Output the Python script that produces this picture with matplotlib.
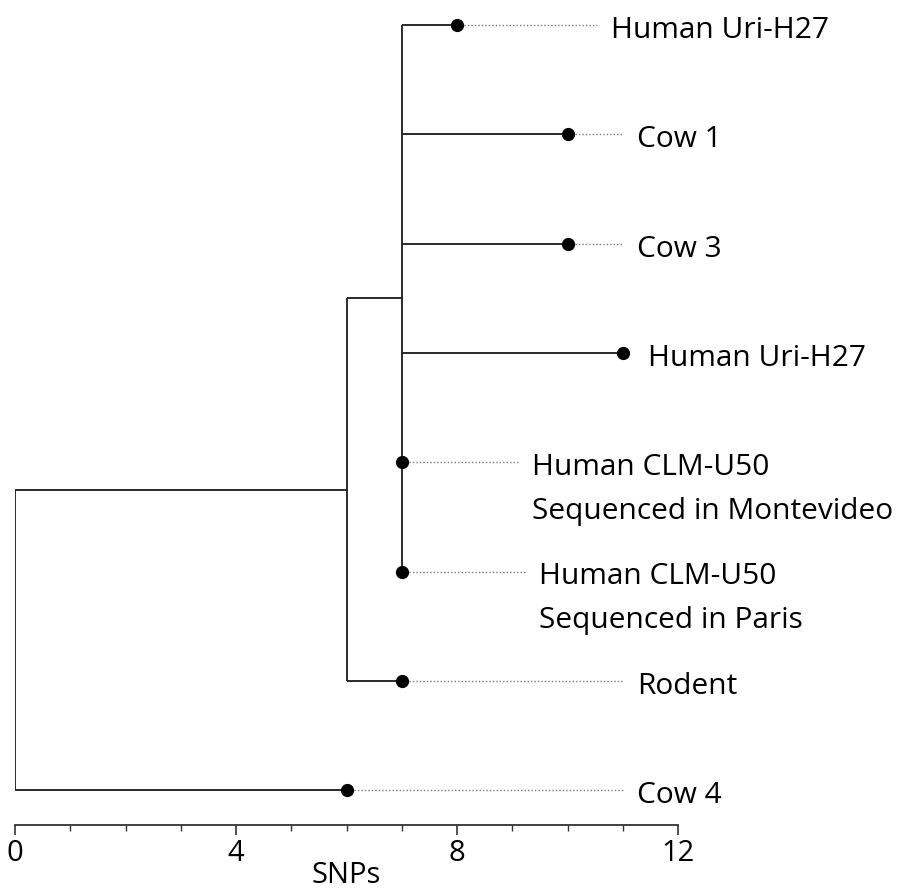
import matplotlib
matplotlib.use("Agg")
import matplotlib.pyplot as plt

plt.rcParams["font.family"] = ["Open Sans", "DejaVu Sans"]

# leaves, top to bottom
leaf_names = ["Human Uri-H27", "Cow 1", "Cow 3", "Human Uri-H27",
              "Human CLM-U50\nSequenced in Montevideo",
              "Human CLM-U50\nSequenced in Paris",
              "Rodent", "Cow 4"]
leaf_snps = [8, 10, 10, 11, 7, 7, 7, 6]
# where the dotted guide line to the label stops
guide_end = [10.53, 11.0, 11.0, 11.0, 9.1, 9.23, 11.0, 11.0]

# internal nodes: name, SNP position, children (leaf index or node name)
node_names = ["A", "B", "root"]
node_snps = [7, 6, 0]
node_children = [[0, 1, 2, 3, 4, 5], ["A", 6], ["B", 7]]

ink = "#1a1a1a"

fig = plt.figure(figsize=(9.12, 8.89), dpi=100)
ax = fig.add_axes([15 / 912, 64 / 889, 663 / 912, 825 / 889])

node_pos = {}
for i in range(len(leaf_names)):
    node_pos[i] = (leaf_snps[i], i)

for name, x, kids in zip(node_names, node_snps, node_children):
    ys = [node_pos[k][1] for k in kids]
    ax.plot([x, x], [min(ys), max(ys)], color=ink, lw=1.3, solid_capstyle="butt")
    for k in kids:
        kx, ky = node_pos[k]
        if kx > x:
            ax.plot([x, kx], [ky, ky], color=ink, lw=1.3, solid_capstyle="butt")
    node_pos[name] = (x, (min(ys) + max(ys)) / 2)

for i, label in enumerate(leaf_names):
    x = leaf_snps[i]
    if guide_end[i] > x:
        ax.plot([x, guide_end[i]], [i, i], color="#7a7a7a", lw=1.0,
                linestyle=(0, (1, 1.5)), zorder=1)
    ax.plot(x, i, "o", color="black", markersize=8.5, zorder=3, clip_on=False)
    tx = max(guide_end[i], x + 0.2) + 0.26
    for j, line in enumerate(label.split("\n")):
        ax.text(tx, i + 0.05 + j * 0.40, line, fontsize=21.5, va="center",
                ha="left", color="black", clip_on=False)

ax.set_xlim(0, 12)
ax.set_ylim(7.319, -0.229)
ax.set_xticks([0, 4, 8, 12])
ax.set_xticks(range(0, 13), minor=True)
ax.tick_params(axis="x", which="major", length=7, width=1.2, labelsize=21,
               pad=3, color="#333333")
ax.tick_params(axis="x", which="minor", length=4, width=1.0, color="#333333")
ax.set_yticks([])
for s in ["top", "right", "left"]:
    ax.spines[s].set_visible(False)
ax.spines["bottom"].set_color("#333333")
ax.spines["bottom"].set_linewidth(1.3)
ax.set_xlabel("SNPs", fontsize=21, labelpad=-5)

fig.savefig("out.png", dpi=100)
